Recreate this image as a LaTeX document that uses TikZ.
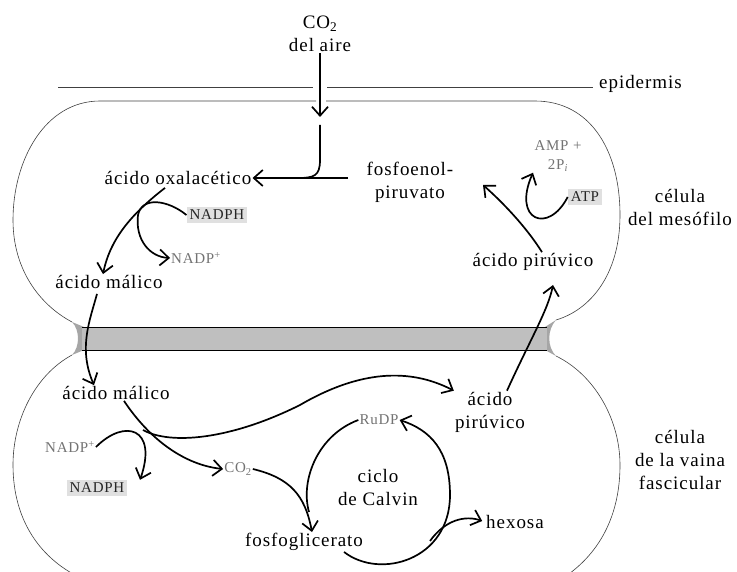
\documentclass[tikz,border=0pt]{standalone}
\usepackage{fontspec}
\setmainfont{Liberation Serif}
\usetikzlibrary{arrows.meta}

\tikzset{
  txt/.style={font=\fontsize{19}{23}\selectfont\addfontfeature{LetterSpace=5}, align=center, inner sep=1pt},
  small/.style={font=\fontsize{15}{19}\selectfont\addfontfeature{LetterSpace=5}, text=black!55, align=center, inner sep=1pt},
  boxed/.style={small, text=black!85, fill=black!12, inner sep=3pt},
  cell/.style={line width=0.6pt, black!75},
  flow/.style={line width=1.7pt, -{Straight Barb[length=9pt,width=16pt,line width=1.7pt]}},
  flowplain/.style={line width=1.7pt},
}

\begin{document}
\begin{tikzpicture}[x=1pt,y=-1pt]
\useasboundingbox (0,0) rectangle (737,572);

% texts
\node[txt] (air) at (320,34) {CO\textsubscript{2}\\del aire};
\node[txt, anchor=west] (epid) at (598,84) {epidermis};
\node[txt] (oxal) at (178,178) {ácido oxalacético};
\node[txt] (pep) at (410,182) {fosfoenol-\\piruvato};
\node[boxed] (nadph1) at (217,215) {NADPH};
\node[small] (nadp1) at (196,258) {NADP\textsuperscript{+}};
\node[txt] (malic1) at (109,282) {ácido málico};
\node[txt] (pyr1) at (533,262) {ácido pirúvico};
\node[small] (amp) at (558,156) {AMP +\\2P\textsubscript{\itshape i}};
\node[boxed] (atp) at (585,197) {ATP};
\node[txt] (meso) at (680,207) {célula\\del mesófilo};
\node[txt] (malic2) at (116,393) {ácido málico};
\node[txt] (pyr2) at (490,412) {ácido\\pirúvico};
\node[small] (nadp2) at (70,447) {NADP\textsuperscript{+}};
\node[boxed] (nadph2) at (97,488) {NADPH};
\node[small] (co2b) at (238,469) {CO\textsubscript{2}};
\node[small] (rudp) at (379,420) {RuDP};
\node[txt] (calvin) at (378,487) {ciclo\\de Calvin};
\node[txt] (pga) at (304,542) {fosfoglicerato};
\node[txt] (hex) at (515,522) {hexosa};
\node[txt] (sheath) at (680,460) {célula\\de la vaina\\fascicular};

% epidermis and cells
\draw[cell] (58,87) -- (313,87) (327,87) -- ([xshift=-5pt]epid.west |- 0,87);
\draw[cell] (316,101) -- (100,101) .. controls (45,101) and (13,160) .. (13,220)
  .. controls (13,270) and (40,305) .. (72,322);
\draw[cell] (326,101) -- (535,101) .. controls (590,101) and (620,150) .. (620,215)
  .. controls (620,275) and (590,310) .. (556,320);
\draw[cell] (72,355) .. controls (35,375) and (13,420) .. (13,465)
  .. controls (13,520) and (40,560) .. (85,580);
\draw[cell] (556,356) .. controls (595,375) and (620,420) .. (620,465)
  .. controls (620,515) and (600,555) .. (560,580);
\fill[black!35] (72,322) .. controls (80,330) and (80,347) .. (72,355) -- (84,350) -- (84,327) -- cycle;
\fill[black!35] (556,320) .. controls (547,330) and (547,347) .. (556,356) -- (545,350) -- (545,327) -- cycle;
\fill[black!25] (82,327) rectangle (547,350);
\draw[line width=0.8pt] (82,327) -- (547,327) (82,350) -- (547,350);

% points
\coordinate (gapend) at (320,117);
\coordinate (entry) at (320,125);
\coordinate (pepend) at (348,178);
\coordinate (pepin) at (483,185);
\coordinate (pyrin) at (553,285);
\coordinate (fork) at (143,430);
\coordinate (branch) at (430,541);

% mesophyll
\draw[flow] (air.south) -- (gapend);
\draw[flowplain] (entry) -- (320,160) .. controls (320,176) and (314,178) .. (298,178);
\draw[flow] (pepend) -- (oxal.east);
\draw[flow] ([xshift=-13pt,yshift=-2pt]oxal.south) .. controls (130,215) and (110,240) .. ([xshift=-6pt]malic1.north);
\draw[flow] (nadph1.west) .. controls (168,200) and (142,196) .. (138,215)
  .. controls (135,240) and (150,257) .. (nadp1.west);
\draw[flow] ([xshift=9pt]pyr1.north) .. controls (525,225) and (500,200) .. (pepin);
\draw[flow] (atp.west) .. controls (548,235) and (512,220) .. ([xshift=-25pt]amp.south);
\draw[flow] ([xshift=-12pt,yshift=-4pt]malic1.south) .. controls (90,320) and (78,348) .. ([xshift=-22pt]malic2.north);
\draw[flow] ([xshift=17pt]pyr2.north) .. controls (530,340) and (548,310) .. (pyrin);

% bundle sheath
\draw[flow] ([xshift=8pt]malic2.south) .. controls (150,440) and (185,465) .. (co2b.west);
\draw[flow] (fork) .. controls (170,445) and (230,440) .. (300,405)
  .. controls (360,370) and (410,368) .. (pyr2.north west);
\draw[flow] (nadp2.east) .. controls (125,418) and (158,428) .. ([xshift=43pt]nadph2.north);
\draw[flow] (co2b.east) .. controls (290,478) and (305,495) .. ([xshift=8pt]pga.north);
\draw[flowplain] (rudp.west) .. controls (318,435) and (300,480) .. (309,512);
\draw[flow] ([xshift=40pt]pga.south) .. controls (380,580) and (450,560) .. (450,495)
  .. controls (450,450) and (430,430) .. (rudp.east);
\draw[flow, shorten >=3pt] (branch) .. controls (445,520) and (465,515) .. (hex.west);
\end{tikzpicture}
\end{document}
